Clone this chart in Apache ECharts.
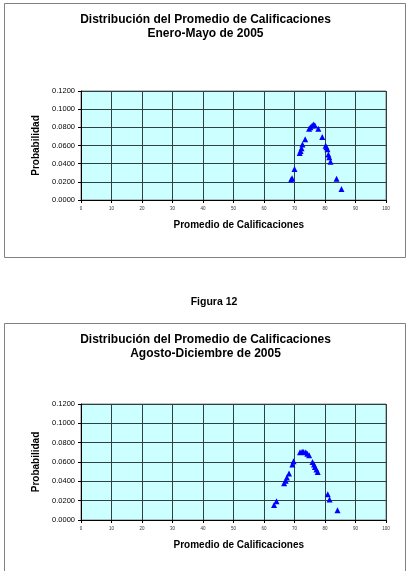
<!DOCTYPE html>
<html lang="es">
<head>
    <meta charset="UTF-8">
    <title>Distribución del Promedio de Calificaciones</title>
    <script type="text/javascript" src="https://cdn.jsdelivr.net/npm/echarts@6/dist/echarts.min.js"></script>
</head>
<body style="height: 571px; margin: 0; width: 412px; background: #fff">
<div id="container" style="height: 100%; width: 100%"></div>
<script type="text/javascript">
    // Enero-Mayo de 2005
    var eneroX = [68.9, 69.2, 70.0, 71.7, 72.0, 72.3, 72.6, 73.5, 74.8, 75.2, 75.8, 76.3, 76.7, 77.8,
        79.1, 80.2, 80.5, 80.8, 81.1, 81.4, 81.8, 83.8, 85.4];
    var eneroY = [0.0225, 0.0240, 0.0341, 0.0517, 0.0540, 0.0570, 0.0610, 0.0670, 0.0785, 0.0800,
        0.0820, 0.0830, 0.0820, 0.0785, 0.0694, 0.0598, 0.0580, 0.0560, 0.0500, 0.0470, 0.0420,
        0.0235, 0.0120];
    // Agosto-Diciembre de 2005
    var agostoX = [63.3, 64.1, 66.6, 67.1, 67.5, 68.2, 69.3, 69.7, 71.8, 72.5, 73.0, 73.7, 74.2,
        74.8, 75.9, 76.4, 76.7, 77.2, 77.6, 80.9, 81.5, 84.1];
    var agostoY = [0.0156, 0.0194, 0.0380, 0.0405, 0.0440, 0.0480, 0.0575, 0.0607, 0.0700, 0.0707,
        0.0703, 0.0700, 0.0686, 0.0669, 0.0600, 0.0575, 0.0548, 0.0523, 0.0496, 0.0267, 0.0211,
        0.0100];

    var titulo = 'Distribución del Promedio de Calificaciones';
    var subtitulos = ['Enero-Mayo de 2005', 'Agosto-Diciembre de 2005'];
    var figura = 'Figura 12';
    var nombreX = 'Promedio de Calificaciones';
    var nombreY = 'Probabilidad';

    function pares(xs, ys) {
        var out = [];
        for (var i = 0; i < xs.length; i++) out.push([xs[i], ys[i]]);
        return out;
    }

    var fuente = 'Liberation Sans, Arial, sans-serif';

    function ejeX(idx) {
        return {
            type: 'value', gridIndex: idx, min: 0, max: 100, interval: 10,
            name: nombreX, nameLocation: 'middle', nameGap: 20.5,
            nameTextStyle: {fontFamily: fuente, fontWeight: 'bold', fontSize: 10, color: '#000',
                padding: [0, 0, 0, 10.6]},
            axisLine: {lineStyle: {color: '#000', width: 1}},
            axisTick: {show: true, length: 3, inside: false, lineStyle: {color: '#000'}},
            axisLabel: {fontFamily: fuente, fontSize: 4.5, color: '#333', margin: 6},
            splitLine: {show: true, lineStyle: {color: '#2e4040', width: 1}}
        };
    }

    function ejeY(idx) {
        return {
            type: 'value', gridIndex: idx, min: 0, max: 0.12, interval: 0.02,
            name: nombreY, nameLocation: 'middle', nameGap: 33,
            nameTextStyle: {fontFamily: fuente, fontWeight: 'bold', fontSize: 10, color: '#000'},
            axisLine: {show: true, lineStyle: {color: '#000', width: 1}},
            axisTick: {show: true, length: 3, lineStyle: {color: '#000'}},
            axisLabel: {fontFamily: fuente, fontSize: 7.5, color: '#000', margin: 6,
                formatter: function (v) { return v.toFixed(4); }},
            splitLine: {show: true, lineStyle: {color: '#2e4040', width: 1}}
        };
    }

    var dom = document.getElementById("container");
    var myChart = echarts.init(dom);

    var option = {
        backgroundColor: '#fff',
        animation: false,
        title: [
            {text: titulo + '\n' + subtitulos[0], left: 205.5, top: 12.5, textAlign: 'center', padding: 0,
                textStyle: {fontFamily: fuente, fontWeight: 'bold', fontSize: 12, lineHeight: 14, color: '#000'}},
            {text: figura, left: 214, top: 296.5, textAlign: 'center', padding: 0,
                textStyle: {fontFamily: fuente, fontWeight: 'bold', fontSize: 10.5, color: '#000'}},
            {text: titulo + '\n' + subtitulos[1], left: 205.5, top: 332.5, textAlign: 'center', padding: 0,
                textStyle: {fontFamily: fuente, fontWeight: 'bold', fontSize: 12, lineHeight: 14, color: '#000'}}
        ],
        graphic: [
            {type: 'rect', shape: {x: 4.5, y: 3.5, width: 401, height: 254},
                style: {fill: 'none', stroke: '#808080', lineWidth: 1}},
            {type: 'rect', shape: {x: 4.5, y: 323.5, width: 401, height: 260},
                style: {fill: 'none', stroke: '#808080', lineWidth: 1}}
        ],
        grid: [
            {left: 81, top: 91, width: 305, height: 109, show: true, backgroundColor: '#ccffff',
                borderColor: '#808080', borderWidth: 1},
            {left: 81, top: 404, width: 305, height: 116, show: true, backgroundColor: '#ccffff',
                borderColor: '#808080', borderWidth: 1}
        ],
        xAxis: [ejeX(0), ejeX(1)],
        yAxis: [ejeY(0), ejeY(1)],
        series: [
            {type: 'scatter', xAxisIndex: 0, yAxisIndex: 0, symbol: 'triangle', symbolSize: 6,
                itemStyle: {color: '#0000ff', opacity: 1}, data: pares(eneroX, eneroY)},
            {type: 'scatter', xAxisIndex: 1, yAxisIndex: 1, symbol: 'triangle', symbolSize: 6,
                itemStyle: {color: '#0000ff', opacity: 1}, data: pares(agostoX, agostoY)}
        ]
    };
    myChart.setOption(option, true);
</script>
</body>
</html>
